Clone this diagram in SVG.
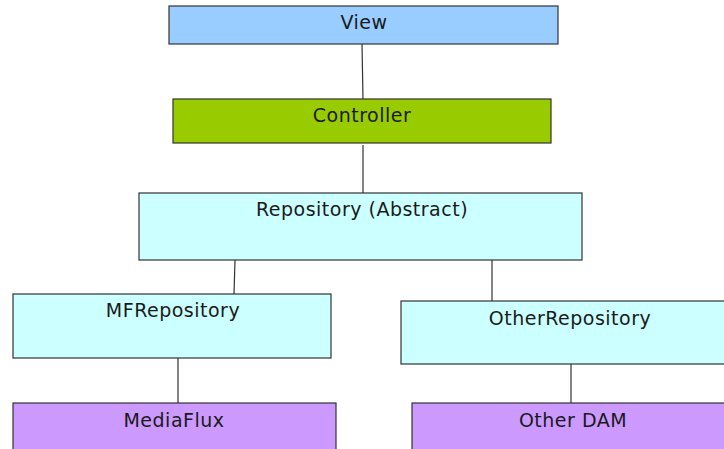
<svg xmlns="http://www.w3.org/2000/svg" width="724" height="449" viewBox="0 0 724 449">
<style>
.box{stroke:#333;stroke-width:1.2}
.lbl{font-family:"DejaVu Sans","Liberation Sans",sans-serif;font-size:19px;letter-spacing:0.5px;fill:#1a1a1a;text-anchor:middle}
.conn line{stroke:#333;stroke-width:1.2}
</style>
<rect width="724" height="449" fill="#fff"/>
<g class="conn" id="connectors">
<line x1="362" y1="44" x2="363" y2="99"/>
<line x1="363" y1="145" x2="363" y2="193"/>
<line x1="235" y1="260" x2="234" y2="294"/>
<line x1="492" y1="260" x2="492" y2="301"/>
<line x1="178" y1="358" x2="178" y2="403"/>
<line x1="571" y1="364" x2="571" y2="403"/>
</g>
<g id="view"><rect class="box" x="169" y="6" width="389" height="38" fill="#99ccff"/><text class="lbl" x="364" y="29">View</text></g>
<g id="controller"><rect class="box" x="173" y="99" width="378" height="44" fill="#99cc00"/><text class="lbl" x="362" y="122">Controller</text></g>
<g id="repository"><rect class="box" x="139" y="193" width="443" height="67" fill="#ccffff"/><text class="lbl" x="362" y="216">Repository (Abstract)</text></g>
<g id="mfrepository"><rect class="box" x="13" y="294" width="318" height="64" fill="#ccffff"/><text class="lbl" x="173" y="317">MFRepository</text></g>
<g id="otherrepository"><rect class="box" x="401" y="301" width="330" height="63" fill="#ccffff"/><text class="lbl" x="570" y="325">OtherRepository</text></g>
<g id="mediaflux"><rect class="box" x="13" y="403" width="323" height="60" fill="#cc99ff"/><text class="lbl" x="174" y="427">MediaFlux</text></g>
<g id="otherdam"><rect class="box" x="412" y="403" width="320" height="60" fill="#cc99ff"/><text class="lbl" x="573" y="427">Other DAM</text></g>
</svg>
